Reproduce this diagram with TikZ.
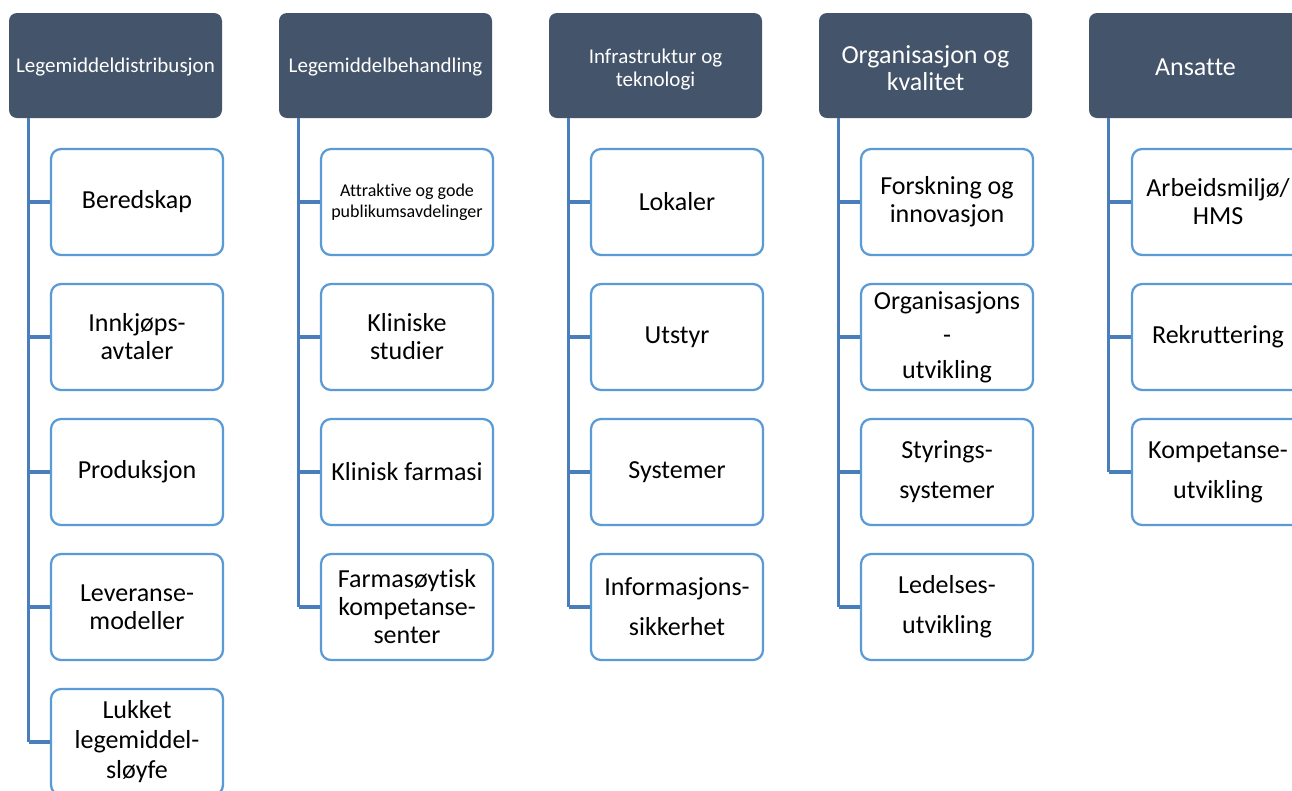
\documentclass[tikz,border=0pt]{standalone}
\usepackage{fontspec}
\setmainfont{Carlito}[Ligatures={NoCommon}]
\definecolor{hdr}{HTML}{44546A}
\definecolor{bord}{HTML}{5B9BD5}
\definecolor{conn}{HTML}{4A7EBB}
\tikzset{
  hdrbox/.style={fill=hdr, draw=none, rounded corners=6pt, minimum width=159.75pt, minimum height=78.75pt, inner sep=0pt},
  hdrtxt/.style={text=white, align=center, inner sep=0pt},
  smallhdr/.style={font=\fontsize{15.75}{17.5}\selectfont},
  bighdr/.style={font=\fontsize{19.5}{20.5}\selectfont},
  childbox/.style={draw=bord, line width=1.7pt, fill=white, rounded corners=7.5pt, minimum width=129pt, minimum height=79.5pt, align=center, inner sep=0pt, font=\fontsize{19.5}{21}\selectfont},
  smallchild/.style={font=\fontsize{13.5}{16}\selectfont},
  conline/.style={draw=conn, line width=2.3pt},
}
\begin{document}
\begin{tikzpicture}[x=0.75pt,y=-0.75pt]
\useasboundingbox (0,0) rectangle (1292,790);
\clip (0,0) rectangle (1292,790);
\fill[white] (0,0) rectangle (1292,790);

% headers
\node[hdrbox, label={[hdrtxt,smallhdr,yshift=-1.5pt]center:{Legemiddeldistribusjon}}] (h1) at (115.5,65.5) {};
\node[hdrbox, label={[hdrtxt,smallhdr,yshift=-1.5pt]center:{Legemiddelbehandling}}] (h2) at (385.5,65.5) {};
\node[hdrbox, label={[hdrtxt,smallhdr,yshift=-3pt]center:{Infrastruktur og\\teknologi}}] (h3) at (655.5,65.5) {};
\node[hdrbox, label={[hdrtxt,bighdr,yshift=-2.2pt]center:{Organisasjon og\\kvalitet}}] (h4) at (925.5,65.5) {};
\node[hdrbox, label={[hdrtxt,bighdr,yshift=-1.5pt]center:{Ansatte}}] (h5) at (1195.5,65.5) {};

% column 1
\node[childbox] (c11) at (137,202) {Beredskap};
\node[childbox] (c12) at (137,337) {Innkjøps-\\avtaler};
\node[childbox] (c13) at (137,472) {Produksjon};
\node[childbox] (c14) at (137,607) {Leveranse-\\modeller};
\node[childbox] (c15) at (137,742) {Lukket\\[1.5pt]legemiddel-\\[1.5pt]sløyfe};

% column 2
\node[childbox,smallchild] (c21) at (407,202) {Attraktive og gode\\publikumsavdelinger};
\node[childbox] (c22) at (407,337) {Kliniske\\studier};
\node[childbox] (c23) at (407,472) {Klinisk farmasi};
\node[childbox] (c24) at (407,607) {Farmasøytisk\\kompetanse-\\senter};

% column 3
\node[childbox] (c31) at (677,202) {Lokaler};
\node[childbox] (c32) at (677,337) {Utstyr};
\node[childbox] (c33) at (677,472) {Systemer};
\node[childbox] (c34) at (677,607) {Informasjons-\\[9pt]sikkerhet};

% column 4
\node[childbox] (c41) at (947,202) {Forskning og\\innovasjon};
\node[childbox] (c42) at (947,337) {Organisasjons\\[5pt]{-}\\[5pt]utvikling};
\node[childbox] (c43) at (947,472) {Styrings-\\[9pt]systemer};
\node[childbox] (c44) at (947,607) {Ledelses-\\[9pt]utvikling};

% column 5
\node[childbox] (c51) at (1218,202) {Arbeidsmiljø/\\HMS};
\node[childbox] (c52) at (1218,337) {Rekruttering};
\node[childbox] (c53) at (1218,472) {Kompetanse-\\[9pt]utvikling};

% connectors
\coordinate (v1) at ([xshift=15pt]h1.south west);
\coordinate (v2) at ([xshift=15pt]h2.south west);
\coordinate (v3) at ([xshift=15pt]h3.south west);
\coordinate (v4) at ([xshift=15pt]h4.south west);
\coordinate (v5) at ([xshift=15pt]h5.south west);

\draw[conline] (v1) -- (v1 |- c15.west);
\foreach \c in {c11,c12,c13,c14,c15} \draw[conline] (v1 |- \c.west) -- (\c.west);
\draw[conline] (v2) -- (v2 |- c24.west);
\foreach \c in {c21,c22,c23,c24} \draw[conline] (v2 |- \c.west) -- (\c.west);
\draw[conline] (v3) -- (v3 |- c34.west);
\foreach \c in {c31,c32,c33,c34} \draw[conline] (v3 |- \c.west) -- (\c.west);
\draw[conline] (v4) -- (v4 |- c44.west);
\foreach \c in {c41,c42,c43,c44} \draw[conline] (v4 |- \c.west) -- (\c.west);
\draw[conline] (v5) -- (v5 |- c53.west);
\foreach \c in {c51,c52,c53} \draw[conline] (v5 |- \c.west) -- (\c.west);
\end{tikzpicture}
\end{document}
